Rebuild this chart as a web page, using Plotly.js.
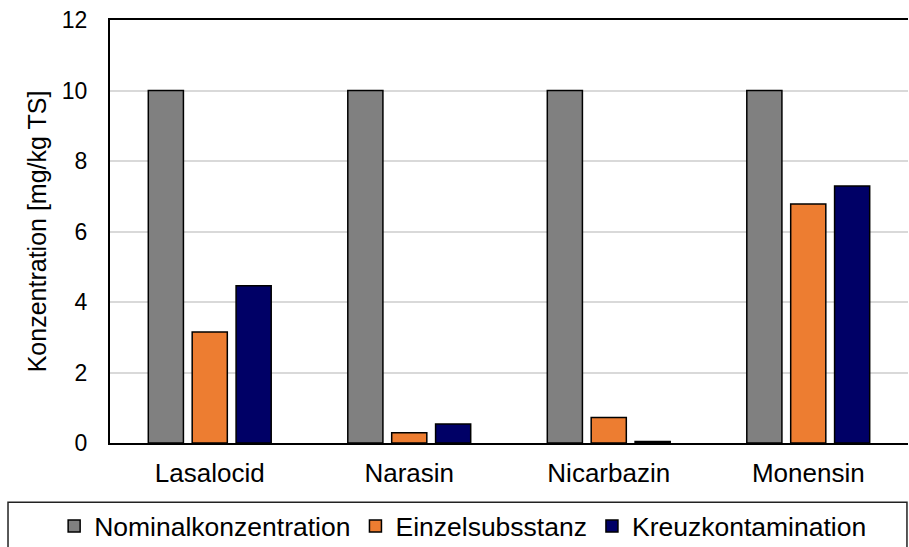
<!DOCTYPE html>
<html>
<head>
<meta charset="utf-8">
<script src="https://cdn.plot.ly/plotly-3.0.1.min.js"></script>
<style>html,body{margin:0;padding:0;background:#fff;}#chart{width:909px;height:547px;}</style>
</head>
<body>
<div id="chart"></div>
<script>
const categories = ["Lasalocid", "Narasin", "Nicarbazin", "Monensin"];
const nominal = [10, 10, 10, 10];
const einzel = [3.15, 0.29, 0.72, 6.78];
const kreuz = [4.46, 0.54, 0.04, 7.29];
const seriesNames = ["Nominalkonzentration", "Einzelsubsstanz", "Kreuzkontamination"];
const yTicks = [0, 2, 4, 6, 8, 10, 12];

const FONT = "Liberation Sans, Arial, sans-serif";
const colors = ["#808080", "#ED7D31", "#000066"];
const values = [nominal, einzel, kreuz];

const traces = values.map((v, i) => ({
  type: "bar",
  name: seriesNames[i],
  x: categories,
  y: v,
  marker: { color: colors[i], line: { color: "#000000", width: 1.5 } },
  hoverinfo: "x+y+name"
}));

const layout = {
  width: 909,
  height: 547,
  margin: { l: 110, r: 1, t: 20, b: 104, autoexpand: false },
  paper_bgcolor: "#ffffff",
  plot_bgcolor: "#ffffff",
  font: { family: FONT, size: 25, color: "#000000" },
  barmode: "group",
  bargap: 0.34,
  bargroupgap: 0.2,
  showlegend: true,
  legend: {
    orientation: "h",
    x: -0.070, xanchor: "left",
    y: -0.197, yanchor: "middle",
    font: { family: FONT, size: 26.5, color: "#000000" },
    bgcolor: "rgba(0,0,0,0)",
    borderwidth: 0
  },
  xaxis: {
    type: "category",
    automargin: false,
    showline: true, linecolor: "#000000", linewidth: 2,
    mirror: true,
    ticks: "",
    showgrid: false,
    tickfont: { family: FONT, size: 26, color: "#000000" },
    ticklabelstandoff: 6
  },
  yaxis: {
    range: [0, 12],
    automargin: false,
    tickvals: yTicks,
    ticktext: yTicks.map(String),
    showline: true, linecolor: "#000000", linewidth: 2,
    ticks: "",
    showgrid: true, gridcolor: "#d9d9d9", gridwidth: 2,
    zeroline: false,
    tickfont: { family: FONT, size: 23, color: "#000000" },
    ticklabelstandoff: 16,
    title: { text: "Konzentration [mg/kg TS]", font: { family: FONT, size: 25, color: "#000000" }, standoff: 8 }
  },
  shapes: [{
    type: "rect", xref: "paper", yref: "paper",
    x0: -0.1278, x1: 0.9987, y0: -0.14, y1: -0.35,
    line: { color: "#222222", width: 1.5 }, fillcolor: "rgba(0,0,0,0)", layer: "below"
  }]
};

Plotly.newPlot("chart", traces, layout, { displayModeBar: false, staticPlot: true });
</script>
</body>
</html>
